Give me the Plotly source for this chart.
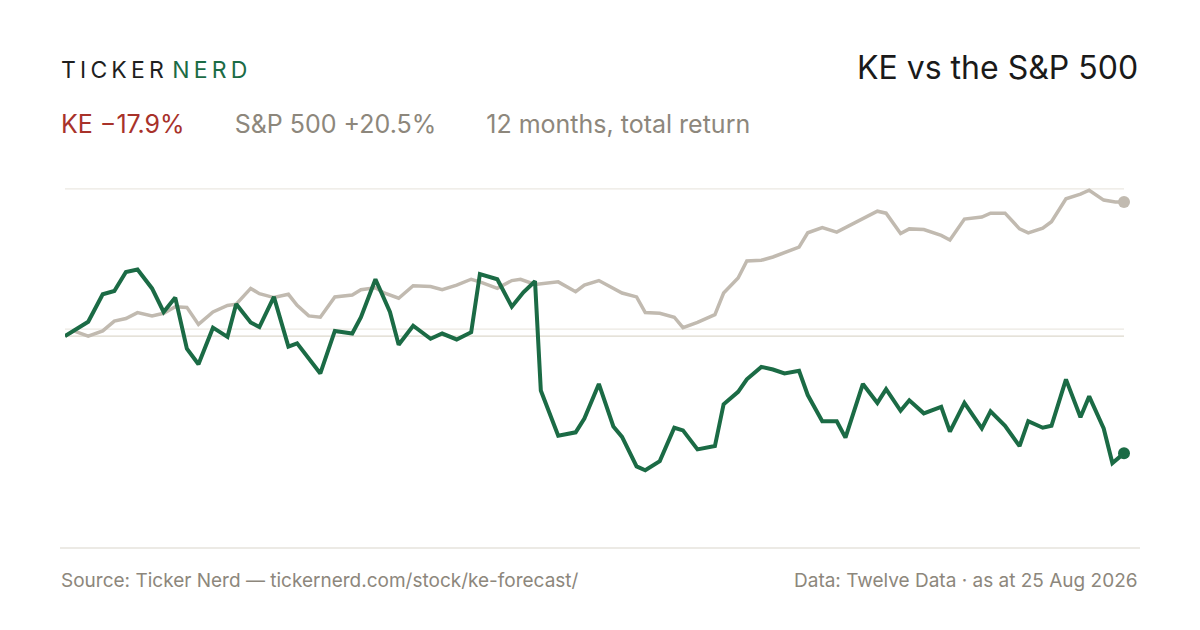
import datetime as dt
import plotly.graph_objects as go

# KE total return vertices: (days since start, % return)
ke_days = [0, 8, 13, 17, 21, 25, 30, 34, 38, 42, 46, 51, 56, 59, 64, 67, 72, 77, 80, 88,
           93, 99, 102, 107, 112, 115, 120, 126, 130, 135, 140, 143, 149, 154, 158, 162,
           164, 170, 176, 179, 184, 189, 192, 197, 200, 205, 210, 213, 218, 224, 227, 232,
           235, 240, 244, 248, 253, 256, 261, 266, 269, 275, 280, 283, 288, 291, 296, 302,
           305, 310, 316, 319, 324, 329, 332, 337, 340, 345, 350, 353, 358, 361, 365]
ke_pct = [0.0, 2.2, 6.4, 6.9, 9.8, 10.2, 7.3, 3.7, 5.9, -1.9, -4.3, 1.3, -0.1, 4.9, 2.1,
          1.4, 6.0, -1.6, -1.1, -5.7, 0.8, 0.4, 2.9, 8.7, 3.7, -1.3, 1.6, -0.4, 0.4, -0.5,
          0.6, 9.5, 8.7, 4.5, 6.7, 8.4, -8.3, -15.2, -14.7, -12.6, -7.3, -13.8, -15.4,
          -19.9, -20.5, -19.1, -14.0, -14.4, -17.3, -16.8, -10.4, -8.5, -6.6, -4.7, -5.1,
          -5.7, -5.3, -9.0, -13.0, -13.0, -15.5, -7.3, -10.2, -8.1, -11.4, -9.8, -11.8,
          -10.8, -14.6, -10.2, -14.1, -11.5, -13.7, -16.8, -13.0, -14.0, -13.7, -6.6,
          -12.4, -9.2, -14.1, -19.4, -17.9]

# S&P 500 total return vertices
spx_days = [0, 3, 8, 13, 17, 21, 25, 30, 34, 38, 42, 46, 51, 56, 59, 64, 67, 72, 77, 80,
            84, 88, 93, 99, 102, 107, 110, 115, 120, 126, 130, 135, 140, 143, 149, 154,
            157, 162, 170, 176, 179, 184, 192, 197, 200, 205, 210, 213, 218, 224, 227,
            232, 235, 240, 244, 248, 253, 256, 261, 266, 274, 280, 283, 288, 291, 296,
            302, 305, 310, 316, 319, 324, 329, 332, 337, 340, 345, 350, 353, 358, 362, 365]
spx_pct = [0.0, 0.8, 0.0, 0.8, 2.3, 2.7, 3.6, 3.1, 3.5, 4.5, 4.4, 1.8, 3.7, 4.7, 4.9,
           7.3, 6.5, 5.9, 6.4, 4.7, 3.1, 2.9, 6.0, 6.3, 7.1, 7.4, 6.6, 5.8, 7.7, 7.6, 7.1,
           7.8, 8.7, 8.3, 7.3, 8.5, 8.7, 7.9, 8.3, 6.8, 7.8, 8.5, 6.6, 6.0, 3.6, 3.5, 2.9,
           1.3, 2.1, 3.3, 6.6, 8.9, 11.5, 11.6, 12.1, 12.8, 13.6, 15.8, 16.6, 15.9, 17.7,
           19.1, 18.8, 15.7, 16.4, 16.3, 15.4, 14.7, 17.9, 18.2, 18.8, 18.8, 16.4, 15.8,
           16.5, 17.5, 21.0, 21.7, 22.3, 20.8, 20.5, 20.5]

start = dt.date(2025, 8, 25)
ke_x = [start + dt.timedelta(days=d) for d in ke_days]
spx_x = [start + dt.timedelta(days=d) for d in spx_days]

GREEN = "#1b6b45"
GREY = "#c1bab0"
TEXT_GREY = "#8d877c"
FONT = "Inter, Roboto, sans-serif"

fig = go.Figure()
fig.add_trace(go.Scatter(x=spx_x, y=spx_pct, mode="lines", line=dict(color=GREY, width=3.5),
                         hoverinfo="skip"))
fig.add_trace(go.Scatter(x=ke_x, y=ke_pct, mode="lines", line=dict(color=GREEN, width=4),
                         hoverinfo="skip"))
fig.add_trace(go.Scatter(x=[spx_x[-1]], y=[spx_pct[-1]], mode="markers",
                         marker=dict(color=GREY, size=12), cliponaxis=False))
fig.add_trace(go.Scatter(x=[ke_x[-1]], y=[ke_pct[-1]], mode="markers",
                         marker=dict(color=GREEN, size=12), cliponaxis=False))

# gridlines
for yv, col in [(22.5, "#ebe8e2"), (1.07, "#ebe8e2"), (0, "#ddd8cc")]:
    fig.add_shape(type="line", xref="paper", x0=0, x1=1, yref="y", y0=yv, y1=yv,
                  line=dict(color=col, width=1.2), layer="below")
# footer rule
fig.add_shape(type="line", xref="paper", x0=-5 / 1059, x1=1075 / 1059, yref="paper",
              y0=-28 / 350, y1=-28 / 350, line=dict(color="#d9d5cc", width=1.2))

def px(x):
    return (x - 65) / 1059

def py(y):
    return (520 - y) / 350

ann = [
    dict(x=px(59), y=py(70), xanchor="left", yanchor="middle",
         text="<span style='color:#1f1f1f'>T\u2009I\u2009C\u2009K\u2009E\u2009R</span>\u2009\u2009"
              "<span style='color:#1b6b45'>N\u2009E\u2009R\u2009D</span>",
         font=dict(size=23, family=FONT)),
    dict(x=px(1140), y=py(67), xanchor="right", yanchor="middle",
         text="KE vs the S&P 500", font=dict(size=32, color="#1a1a1a", family=FONT)),
    dict(x=px(59), y=py(124), xanchor="left", yanchor="middle",
         text="<span style='color:#a8322a'>KE \u221217.9%</span>\u2003\u2003"
              "<span style='color:#8d877c'>S&P 500 +20.5%</span>\u2003\u2003"
              "<span style='color:#8d877c'>12 months, total return</span>",
         font=dict(size=25, family=FONT)),
    dict(x=px(59), y=py(580), xanchor="left", yanchor="middle",
         text="Source: Ticker Nerd \u2014 tickernerd.com/stock/ke-forecast/",
         font=dict(size=19, color=TEXT_GREY, family=FONT)),
    dict(x=px(1140), y=py(580), xanchor="right", yanchor="middle",
         text="Data: Twelve Data \u00b7 as at 25 Aug 2026",
         font=dict(size=19, color=TEXT_GREY, family=FONT)),
]
for a in ann:
    fig.add_annotation(xref="paper", yref="paper", showarrow=False, **a)

fig.update_layout(
    width=1200, height=630, showlegend=False,
    paper_bgcolor="white", plot_bgcolor="white",
    margin=dict(l=57, r=84, t=162, b=118),
    xaxis=dict(visible=False, range=[ke_x[0], ke_x[-1]]),
    yaxis=dict(visible=False, range=[-28.1, 25.4]),
)
fig.write_html("out.html")
